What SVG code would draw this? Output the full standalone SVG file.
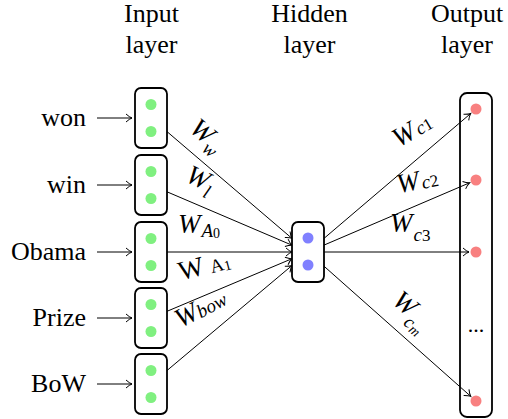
<svg xmlns="http://www.w3.org/2000/svg" width="508" height="419" viewBox="0 0 508 419">
<defs>
<marker id="ah" viewBox="-8 -5 10 10" refX="0" refY="0" markerWidth="10" markerHeight="10" markerUnits="userSpaceOnUse" orient="auto">
<path d="M-6,-4 Q-2.5,-0.8 0,0 Q-2.5,0.8 -6,4" fill="none" stroke="#000" stroke-width="1"/>
</marker>
</defs>

<g id="headers">
<text x="151.5" y="22" font-family="Liberation Serif, Times New Roman, serif" font-size="26" text-anchor="middle">Input</text>
<text x="151.5" y="53" font-family="Liberation Serif, Times New Roman, serif" font-size="26" text-anchor="middle">layer</text>
<text x="309.5" y="22" font-family="Liberation Serif, Times New Roman, serif" font-size="26" text-anchor="middle">Hidden</text>
<text x="309.5" y="53" font-family="Liberation Serif, Times New Roman, serif" font-size="26" text-anchor="middle">layer</text>
<text x="467" y="22" font-family="Liberation Serif, Times New Roman, serif" font-size="26" text-anchor="middle">Output</text>
<text x="467" y="53" font-family="Liberation Serif, Times New Roman, serif" font-size="26" text-anchor="middle">layer</text>
</g>

<g id="connectors" stroke="#000" stroke-width="1" fill="none" marker-end="url(#ah)">
<line x1="97" y1="118" x2="132" y2="118"/>
<line x1="97" y1="185" x2="132" y2="185"/>
<line x1="97" y1="252" x2="132" y2="252"/>
<line x1="97" y1="318" x2="132" y2="318"/>
<line x1="97" y1="384" x2="132" y2="384"/>
<line x1="167" y1="131.6" x2="292" y2="238.4"/>
<line x1="167" y1="191.8" x2="292" y2="245.2"/>
<line x1="167" y1="252" x2="292" y2="252"/>
<line x1="167" y1="311.3" x2="292" y2="258.7"/>
<line x1="167" y1="370.5" x2="292" y2="265.5"/>
<line x1="324" y1="238.4" x2="470.7" y2="113.5"/>
<line x1="324" y1="245.1" x2="469.6" y2="182.8"/>
<line x1="324" y1="252" x2="469" y2="252"/>
<line x1="324" y1="266.2" x2="470.8" y2="396.4"/>
</g>

<g id="weights">
<text font-family="Liberation Serif, Times New Roman, serif" font-size="27" font-style="italic" text-anchor="middle" transform="translate(205,138) rotate(40)" y="5">W<tspan font-size="19" dy="7">w</tspan></text>
<text font-family="Liberation Serif, Times New Roman, serif" font-size="27" font-style="italic" text-anchor="middle" transform="translate(199,182) rotate(25)" y="5">W<tspan font-size="19" dy="7">l</tspan></text>
<text font-family="Liberation Serif, Times New Roman, serif" font-size="27" font-style="italic" x="178" y="233">W<tspan font-size="19" dx="1" dy="4">A</tspan><tspan font-size="14" font-style="normal" dy="1">0</tspan></text>
<text font-family="Liberation Serif, Times New Roman, serif" font-size="27" text-anchor="middle" transform="translate(205,269) rotate(-15)" y="5">W <tspan font-size="19" dy="1">A</tspan><tspan font-size="14" dy="1">1</tspan></text>
<text font-family="Liberation Serif, Times New Roman, serif" font-size="27" font-style="italic" text-anchor="middle" transform="translate(202,311) rotate(-28)" y="5">W<tspan font-size="19" dy="1">bow</tspan></text>
<text font-family="Liberation Serif, Times New Roman, serif" font-size="27" font-style="italic" text-anchor="middle" transform="translate(414,133) rotate(-30)" y="5">W<tspan font-size="19" dx="2">c</tspan><tspan font-size="17" font-style="normal">1</tspan></text>
<text font-family="Liberation Serif, Times New Roman, serif" font-size="27" font-style="italic" text-anchor="middle" transform="translate(418,184) rotate(-12)" y="5">W<tspan font-size="19" dx="2" dy="1">c</tspan><tspan font-size="17" font-style="normal">2</tspan></text>
<text font-family="Liberation Serif, Times New Roman, serif" font-size="27" font-style="italic" x="390" y="232">W<tspan font-size="19" dx="1" dy="9">c</tspan><tspan font-size="17" font-style="normal">3</tspan></text>
<text font-family="Liberation Serif, Times New Roman, serif" font-size="27" font-style="italic" text-anchor="middle" transform="translate(410,312) rotate(40)" y="5">W<tspan font-size="19" dy="9">c</tspan><tspan font-size="14" dy="2">m</tspan></text>
</g>

<g id="input-words">
<text x="86" y="125.5" font-family="Liberation Serif, Times New Roman, serif" font-size="26" text-anchor="end">won</text>
<text x="86" y="192.5" font-family="Liberation Serif, Times New Roman, serif" font-size="26" text-anchor="end">win</text>
<text x="86" y="260" font-family="Liberation Serif, Times New Roman, serif" font-size="26" text-anchor="end">Obama</text>
<text x="86" y="326" font-family="Liberation Serif, Times New Roman, serif" font-size="26" text-anchor="end">Prize</text>
<text x="86" y="392" font-family="Liberation Serif, Times New Roman, serif" font-size="26" text-anchor="end">BoW</text>
</g>

<g id="input-1"><rect x="135" y="88" width="32" height="60" rx="6" fill="#fff" stroke="#000" stroke-width="1.8"/><circle cx="151" cy="104.5" r="5.5" fill="#80f080"/><circle cx="151" cy="131.5" r="5.5" fill="#80f080"/></g>
<g id="input-2"><rect x="135" y="155" width="32" height="60" rx="6" fill="#fff" stroke="#000" stroke-width="1.8"/><circle cx="151" cy="171.5" r="5.5" fill="#80f080"/><circle cx="151" cy="198.5" r="5.5" fill="#80f080"/></g>
<g id="input-3"><rect x="135" y="222" width="32" height="60" rx="6" fill="#fff" stroke="#000" stroke-width="1.8"/><circle cx="151" cy="238.5" r="5.5" fill="#80f080"/><circle cx="151" cy="265.5" r="5.5" fill="#80f080"/></g>
<g id="input-4"><rect x="135" y="288" width="32" height="60" rx="6" fill="#fff" stroke="#000" stroke-width="1.8"/><circle cx="151" cy="304.5" r="5.5" fill="#80f080"/><circle cx="151" cy="331.5" r="5.5" fill="#80f080"/></g>
<g id="input-5"><rect x="135" y="354" width="32" height="60" rx="6" fill="#fff" stroke="#000" stroke-width="1.8"/><circle cx="151" cy="370.5" r="5.5" fill="#80f080"/><circle cx="151" cy="397.5" r="5.5" fill="#80f080"/></g>

<g id="hidden"><rect x="292" y="222" width="32" height="60" rx="6" fill="#fff" stroke="#000" stroke-width="1.8"/><circle cx="308" cy="238" r="5.5" fill="#8080ff"/><circle cx="308" cy="265" r="5.5" fill="#8080ff"/></g>

<g id="output"><rect x="460" y="93" width="32" height="324" rx="7" fill="none" stroke="#000" stroke-width="1.8"/>
<circle cx="476" cy="109" r="5.5" fill="#f88080"/>
<circle cx="476" cy="180" r="5.5" fill="#f88080"/>
<circle cx="476" cy="252" r="5.5" fill="#f88080"/>
<circle cx="476" cy="401" r="5.5" fill="#f88080"/>
<text x="476" y="332" text-anchor="middle" font-family="Liberation Serif, Times New Roman, serif" font-size="22">...</text>
</g>
</svg>
